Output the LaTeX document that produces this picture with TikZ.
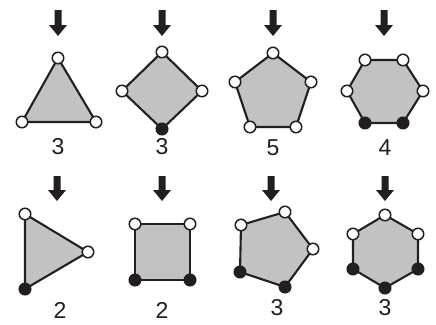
\documentclass[tikz,border=0pt]{standalone}
\usepackage{fontspec}
\setmainfont{Liberation Sans}
\definecolor{ink}{HTML}{231F20}
\definecolor{polygray}{HTML}{C2C2C2}
\newcommand\dnarrow[3]{%
  \fill[ink] (#1-3.5,#2) -- (#1+3.5,#2) -- (#1+3.5,#3-11) -- (#1+9,#3-11) -- (#1,#3)
     -- (#1-9,#3-11) -- (#1-3.5,#3-11) -- cycle;}
\begin{document}
\begin{tikzpicture}[x=1pt,y=-1pt,
  poly/.style={fill=polygray, draw=ink, line width=2.1pt, line join=round},
  wv/.style={circle, draw=ink, fill=white, line width=1.5pt, inner sep=0pt, minimum size=11.5pt},
  bv/.style={circle, draw=ink, fill=ink, line width=1.5pt, inner sep=0pt, minimum size=11.5pt},
  num/.style={font=\fontsize{23}{24}\selectfont, text=ink, inner sep=0pt}]
\useasboundingbox[fill=white] (0,0) rectangle (436,324);

% ---------- arrows ----------
\dnarrow{58}{10}{36}
\dnarrow{162}{10}{36}
\dnarrow{273}{10}{36}
\dnarrow{384}{10}{36}
\dnarrow{57}{176}{201}
\dnarrow{162}{176}{201}
\dnarrow{271}{176}{201}
\dnarrow{385}{176}{201}

% ---------- panel 1: triangle ----------
\coordinate (p1a) at (58,58);
\coordinate (p1b) at (96,122);
\coordinate (p1c) at (22,122);
\draw[poly] (p1a) -- (p1b) -- (p1c) -- cycle;
\node[wv] (n1a) at (p1a) {};
\node[wv] (n1b) at (p1b) {};
\node[wv] (n1c) at (p1c) {};
\node[num] (l1) at (58,147) {3};

% ---------- panel 2: diamond ----------
\coordinate (p2a) at (162,52);
\coordinate (p2b) at (202,91);
\coordinate (p2c) at (162,129);
\coordinate (p2d) at (122,91);
\draw[poly] (p2a) -- (p2b) -- (p2c) -- (p2d) -- cycle;
\node[wv] (n2a) at (p2a) {};
\node[wv] (n2b) at (p2b) {};
\node[bv] (n2c) at (p2c) {};
\node[wv] (n2d) at (p2d) {};
\node[num] (l2) at (162,147) {3};

% ---------- panel 3: pentagon ----------
\coordinate (p3a) at (273,53);
\coordinate (p3b) at (311,82);
\coordinate (p3c) at (296,127);
\coordinate (p3d) at (250,127);
\coordinate (p3e) at (235,82);
\draw[poly] (p3a) -- (p3b) -- (p3c) -- (p3d) -- (p3e) -- cycle;
\node[wv] (n3a) at (p3a) {};
\node[wv] (n3b) at (p3b) {};
\node[wv] (n3c) at (p3c) {};
\node[wv] (n3d) at (p3d) {};
\node[wv] (n3e) at (p3e) {};
\node[num] (l3) at (273,148) {5};

% ---------- panel 4: hexagon ----------
\coordinate (p4a) at (365,60);
\coordinate (p4b) at (403,60);
\coordinate (p4c) at (423,91);
\coordinate (p4d) at (403,123);
\coordinate (p4e) at (365,123);
\coordinate (p4f) at (347,91);
\draw[poly] (p4a) -- (p4b) -- (p4c) -- (p4d) -- (p4e) -- (p4f) -- cycle;
\node[wv] (n4a) at (p4a) {};
\node[wv] (n4b) at (p4b) {};
\node[wv] (n4c) at (p4c) {};
\node[bv] (n4d) at (p4d) {};
\node[bv] (n4e) at (p4e) {};
\node[wv] (n4f) at (p4f) {};
\node[num] (l4) at (385,148) {4};

% ---------- panel 5: triangle pointing right ----------
\coordinate (p5a) at (25,214);
\coordinate (p5b) at (88,252);
\coordinate (p5c) at (25,289);
\draw[poly] (p5a) -- (p5b) -- (p5c) -- cycle;
\node[wv] (n5a) at (p5a) {};
\node[wv] (n5b) at (p5b) {};
\node[bv] (n5c) at (p5c) {};
\node[num] (l5) at (60,310) {2};

% ---------- panel 6: square ----------
\coordinate (p6a) at (135,224);
\coordinate (p6b) at (190,224);
\coordinate (p6c) at (190,280);
\coordinate (p6d) at (135,280);
\draw[poly] (p6a) -- (p6b) -- (p6c) -- (p6d) -- cycle;
\node[wv] (n6a) at (p6a) {};
\node[wv] (n6b) at (p6b) {};
\node[bv] (n6c) at (p6c) {};
\node[bv] (n6d) at (p6d) {};
\node[num] (l6) at (162,310) {2};

% ---------- panel 7: tilted pentagon ----------
\coordinate (p7a) at (285,212);
\coordinate (p7b) at (313,249);
\coordinate (p7c) at (285,287);
\coordinate (p7d) at (240,272);
\coordinate (p7e) at (241,225);
\draw[poly] (p7a) -- (p7b) -- (p7c) -- (p7d) -- (p7e) -- cycle;
\node[wv] (n7a) at (p7a) {};
\node[wv] (n7b) at (p7b) {};
\node[bv] (n7c) at (p7c) {};
\node[bv] (n7d) at (p7d) {};
\node[wv] (n7e) at (p7e) {};
\node[num] (l7) at (277,308) {3};

% ---------- panel 8: pointy hexagon ----------
\coordinate (p8a) at (385,215);
\coordinate (p8b) at (418,234);
\coordinate (p8c) at (418,269);
\coordinate (p8d) at (385,288);
\coordinate (p8e) at (353,269);
\coordinate (p8f) at (353,234);
\draw[poly] (p8a) -- (p8b) -- (p8c) -- (p8d) -- (p8e) -- (p8f) -- cycle;
\node[wv] (n8a) at (p8a) {};
\node[wv] (n8b) at (p8b) {};
\node[bv] (n8c) at (p8c) {};
\node[bv] (n8d) at (p8d) {};
\node[bv] (n8e) at (p8e) {};
\node[wv] (n8f) at (p8f) {};
\node[num] (l8) at (385,308) {3};
\end{tikzpicture}
\end{document}
